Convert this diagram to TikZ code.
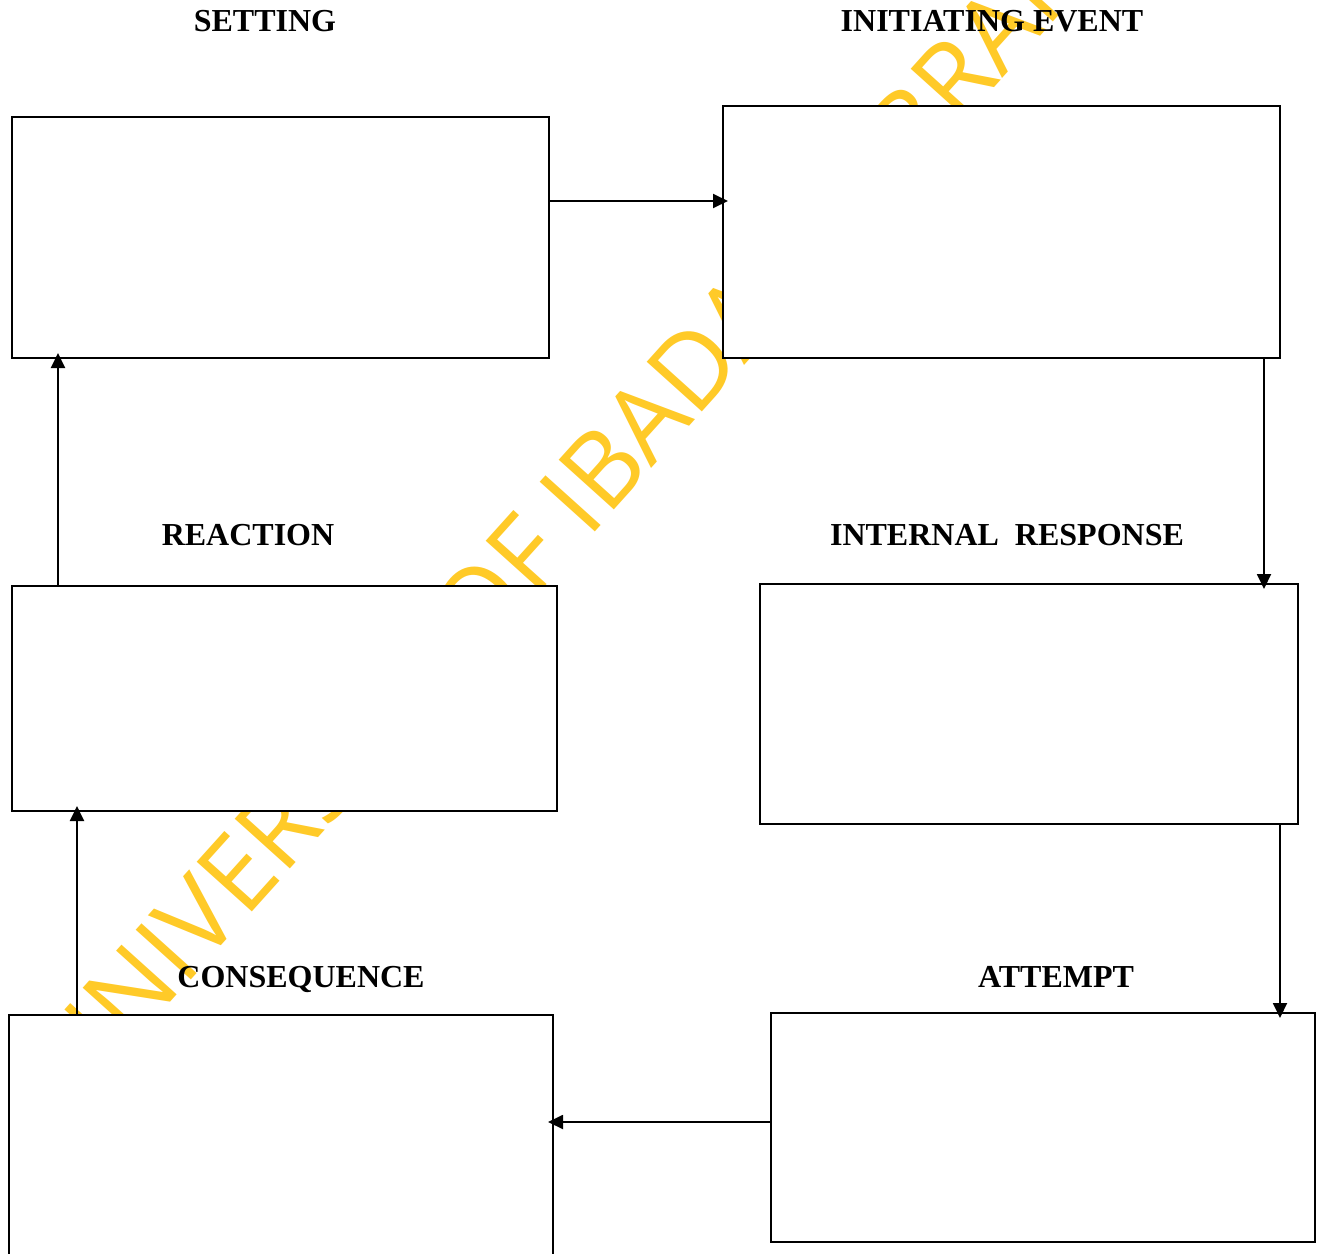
\documentclass[tikz,border=0pt]{standalone}
\usepackage{fontspec}
\setmainfont{Liberation Serif}
\newfontfamily\wmfont{Open Sans}
\usetikzlibrary{arrows.meta}
\definecolor{wmyellow}{RGB}{255,202,40}
\begin{document}
\begin{tikzpicture}[x=1pt,y=-1pt,
  box/.style={draw=black,line width=1.8pt,fill=white,inner sep=0pt,outer sep=0pt,anchor=north west},
  arr/.style={line width=1.9pt,-{Triangle[length=15pt,width=14pt]},shorten >=-5pt},
  lbl/.style={font=\bfseries\fontsize{32}{38}\selectfont,anchor=base,inner sep=0pt},
  wm/.style={text=wmyellow,font=\wmfont\fontsize{104}{120}\selectfont,rotate=48,inner sep=0pt,outer sep=0pt}]
\clip (0,0) rectangle (1325,1253);
\fill[white] (0,0) rectangle (1325,1253);
% watermark
\node[wm,anchor=base east] (wm1) at (570,559) {UNIVERSITY OF};
\node[wm,anchor=base west] (wm2) at (588,539) {IBADAN LIBRARY};
% boxes
\node[box,minimum width=537pt,minimum height=241pt] (setting) at (12,117) {};
\node[box,minimum width=557pt,minimum height=252pt] (init) at (723,106) {};
\node[box,minimum width=545pt,minimum height=225pt] (react) at (12,586) {};
\node[box,minimum width=538pt,minimum height=240pt] (ir) at (760,584) {};
\node[box,minimum width=544pt,minimum height=260pt] (cons) at (9,1015) {};
\node[box,minimum width=544pt,minimum height=229pt] (att) at (771,1013) {};
% arrows
\draw[arr] (setting.east |- 0,201) -- (init.west |- 0,201);
\draw[arr] (init.south -| 1264,0) -- (ir.north -| 1264,0);
\draw[arr] (ir.south -| 1280,0) -- (att.north -| 1280,0);
\draw[arr] (att.west |- 0,1122) -- (cons.east |- 0,1122);
\draw[arr] (cons.north -| 77,0) -- (react.south -| 77,0);
\draw[arr] (react.north -| 58,0) -- (setting.south -| 58,0);
% labels
\node[lbl] (l1) at (265,31) {SETTING};
\node[lbl] (l2) at (992,31) {INITIATING EVENT};
\node[lbl] (l3) at (248,545) {REACTION};
\node[lbl] (l4) at (1007,545) {INTERNAL~~RESPONSE};
\node[lbl] (l5) at (301,987) {CONSEQUENCE};
\node[lbl] (l6) at (1056,987) {ATTEMPT};
\end{tikzpicture}
\end{document}
